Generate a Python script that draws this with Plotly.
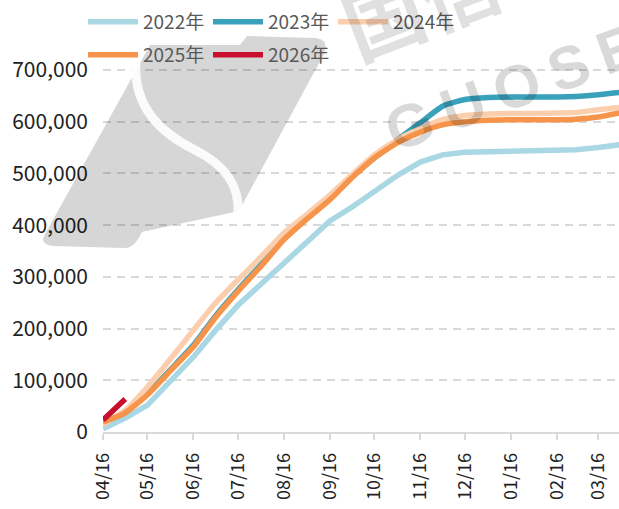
import plotly.graph_objects as go

dates = ["2025-04-16", "2025-05-01", "2025-05-16", "2025-06-01", "2025-06-16", "2025-07-01",
         "2025-07-16", "2025-08-01", "2025-08-16", "2025-09-01", "2025-09-16", "2025-10-01",
         "2025-10-16", "2025-11-01", "2025-11-16", "2025-12-01", "2025-12-16", "2026-01-01",
         "2026-01-16", "2026-02-01", "2026-02-16", "2026-03-01", "2026-03-16", "2026-04-01"]

y2022 = [6, 27, 52, 100, 145, 197, 245, 287, 327, 368, 408, 435, 464, 497, 522, 536, 541, 542, 542, 543, 544, 546, 550, 556]
y2023 = [18, 38, 74, 122, 168, 225, 275, 325, 374, 416, 452, 493, 530, 566, 598, 630, 643, 647, 648, 648, 648, 649, 652, 657]
y2024 = [15, 42, 87, 143, 197, 250, 294, 340, 385, 422, 458, 498, 536, 566, 587, 604, 612, 615, 616, 616, 617, 618, 623, 628]
y2025 = [19, 37, 72, 120, 165, 222, 272, 322, 372, 413, 449, 492, 530, 560, 580, 594, 600, 603, 604, 604, 604, 605, 609, 618]
y2026 = [23, 64]

series = [
    ("2022年", y2022, "#a9d7e4", "linear", "legend"),
    ("2023年", y2023, "#3aa1bb", "spline", "legend"),
    ("2024年", y2024, "#fbcfae", "spline", "legend"),
    ("2025年", y2025, "#f5944a", "spline", "legend2"),
    ("2026年", y2026, "#c8102e", "linear", "legend2"),
]

W, H = 619, 509
L, R, T, B = 103, 0, 30, 77
PW, PH = W - L - R, H - T - B

def px(x):
    return (x - L) / PW

def py(y):
    return (H - B - y) / PH

def pt(a, b):
    return f"{px(a):.4f},{py(b):.4f}"

fig = go.Figure()
for name, vals, color, shape, leg in series:
    fig.add_trace(go.Scatter(
        x=dates[:len(vals)], y=[v * 1000 for v in vals], name=name, mode="lines",
        line=dict(color=color, width=5.5, shape=shape, smoothing=0.5),
        legend=leg,
    ))

# watermark logo (rounded parallelogram split by an S-curve)
logo = ("M " + pt(150, 45) + " L " + pt(240, 45) + " L " + pt(247, 36) + " L " + pt(316, 38)
        + " Q " + pt(330, 40) + " " + pt(324, 54)
        + " L " + pt(239, 211) + " L " + pt(142, 232)
        + " Q " + pt(134, 249) + " " + pt(124, 248)
        + " L " + pt(52, 246) + " Q " + pt(40, 244) + " " + pt(44, 236) + " Z")
s_path = ("M " + pt(136, 60) + " C " + pt(132, 110) + " " + pt(165, 135) + " " + pt(195, 150)
          + " C " + pt(225, 165) + " " + pt(240, 185) + " " + pt(238, 214))

shapes = [
    dict(type="path", xref="paper", yref="paper", path=logo, fillcolor="rgba(0,0,0,0.16)",
         line=dict(width=0), layer="above"),
    dict(type="path", xref="paper", yref="paper", path=s_path,
         line=dict(color="rgba(255,255,255,0.9)", width=9), layer="above"),
]

annotations = [
    dict(text="<b>G\u2009U\u2009O\u2009S\u2009E\u2009N</b>", xref="paper", yref="paper",
         x=px(538), y=py(78), xanchor="center", yanchor="middle", showarrow=False, textangle=-20,
         font=dict(size=60, family="Liberation Sans", color="rgba(0,0,0,0.15)")),
    dict(text="<b>国信</b>", xref="paper", yref="paper", x=px(420), y=py(0),
         xanchor="center", yanchor="middle", showarrow=False, textangle=-21,
         font=dict(size=80, family="Noto Sans CJK SC", color="rgba(0,0,0,0.12)")),
]

font_fam = "Noto Sans CJK SC, Noto Sans, sans-serif"
fig.update_layout(
    width=W, height=H,
    margin=dict(l=L, r=R, t=T, b=B, pad=0),
    paper_bgcolor="white", plot_bgcolor="white",
    font=dict(family=font_fam, size=19, color="#222222"),
    shapes=shapes, annotations=annotations,
    legend=dict(orientation="h", x=px(83), y=py(3), xanchor="left", yanchor="top",
                entrywidth=60, itemwidth=50, font=dict(size=19, color="#595959"),
                bgcolor="rgba(0,0,0,0)", traceorder="normal"),
    legend2=dict(orientation="h", x=px(83), y=py(36), xanchor="left", yanchor="top",
                 entrywidth=60, itemwidth=50, font=dict(size=19, color="#595959"),
                 bgcolor="rgba(0,0,0,0)", traceorder="normal"),
    xaxis=dict(
        type="date", range=["2025-04-16", "2026-03-30"], tick0="2025-04-16", dtick="M1",
        tickformat="%m/%d", tickangle=-90, showgrid=False, showline=True, linecolor="#d9d9d9",
        linewidth=1.5, ticks="outside", ticklen=6, tickcolor="#d9d9d9", tickwidth=1.5,
        tickfont=dict(size=18, color="#222222"), zeroline=False, ticklabelstandoff=6,
        automargin=False,
    ),
    yaxis=dict(
        range=[0, (H - B - T) / 51.71 * 100000], dtick=100000, tick0=0, tickformat=",",
        showgrid=True, gridcolor="#d9d9d9", gridwidth=1.5, griddash="8px,6px",
        zeroline=False, showline=False, ticks="", ticklabelstandoff=14,
        tickfont=dict(size=21, color="#222222"), automargin=False,
    ),
    showlegend=True,
)

fig.write_html("out.html", config={"displayModeBar": False},
               post_script="document.body.style.margin='0';document.body.style.overflow='hidden';")
